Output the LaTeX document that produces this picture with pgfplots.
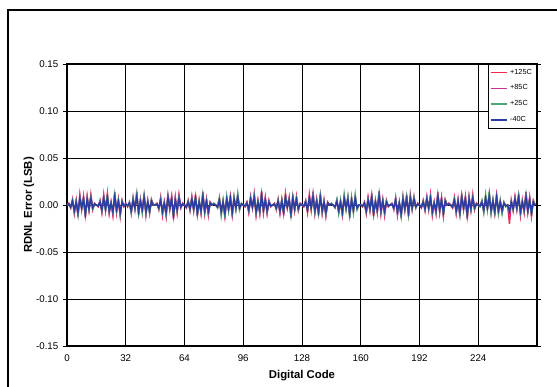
\documentclass[border=0pt]{standalone}
\usepackage{pgfplots}
\usepackage{pgfplotstable}
\pgfplotsset{compat=1.18}
\usepackage{fontspec}
\setmainfont{Liberation Sans}
\definecolor{cRed}{RGB}{240,40,80}
\definecolor{cMag}{RGB}{200,50,150}
\definecolor{cGrn}{RGB}{80,165,115}
\definecolor{cBlu}{RGB}{45,60,165}
\pgfplotstableread{
x r m g b
0 0 0 0 0
1 0.002 0.001 0.001 0.001
2 -0.003 -0.003 -0.002 -0.002
3 0.006 0.005 0.005 0.004
4 -0.009 -0.008 -0.007 -0.006
5 0.005 0.004 0.004 0.003
6 -0.012 -0.010 -0.010 -0.008
7 0.011 0.009 0.008 0.007
8 -0.005 -0.004 -0.004 -0.003
9 0.009 0.008 0.007 0.006
10 -0.014 -0.012 -0.011 -0.009
11 0.009 0.008 0.007 0.006
12 -0.006 -0.005 -0.005 -0.004
13 0.011 0.009 0.008 0.007
14 -0.005 -0.004 -0.004 -0.003
15 0.002 0.001 0.001 0.001
16 0 0 0 0
17 -0.002 -0.001 -0.001 -0.001
18 0.005 0.004 0.004 0.003
19 -0.008 -0.007 -0.006 -0.005
20 0.011 0.009 0.008 0.007
21 -0.006 -0.005 -0.005 -0.004
22 0.012 0.010 0.010 0.008
23 -0.009 -0.008 -0.007 -0.006
24 0.003 0.003 0.002 0.002
25 -0.011 -0.009 -0.008 -0.007
26 0.014 0.012 0.011 0.009
27 -0.008 -0.007 -0.006 -0.005
28 0.006 0.005 0.005 0.004
29 -0.012 -0.010 -0.010 -0.008
30 0.005 0.004 0.004 0.003
31 -0.002 -0.001 -0.001 -0.001
32 0.001 0.002 0.001 0.001
33 -0.001 -0.002 -0.001 -0.001
34 0.002 0.003 0.003 0.002
35 -0.007 -0.009 -0.008 -0.006
36 0.006 0.008 0.007 0.005
37 -0.004 -0.005 -0.004 -0.003
38 0.011 0.014 0.012 0.009
39 -0.008 -0.011 -0.009 -0.007
40 0.005 0.006 0.005 0.004
41 -0.006 -0.008 -0.007 -0.005
42 0.010 0.012 0.010 0.008
43 -0.008 -0.011 -0.009 -0.007
44 0.004 0.005 0.004 0.003
45 -0.007 -0.009 -0.008 -0.006
46 0.005 0.006 0.005 0.004
47 0 0 0 0
48 0 0 0 0
49 0.002 0.001 0.001 0.001
50 -0.005 -0.004 -0.004 -0.003
51 0.008 0.007 0.006 0.005
52 -0.011 -0.009 -0.008 -0.007
53 0.003 0.003 0.002 0.002
54 -0.012 -0.010 -0.010 -0.008
55 0.012 0.010 0.010 0.008
56 -0.005 -0.004 -0.004 -0.003
57 0.009 0.008 0.007 0.006
58 -0.015 -0.013 -0.012 -0.010
59 0.008 0.007 0.006 0.005
60 -0.008 -0.007 -0.006 -0.005
61 0.011 0.009 0.008 0.007
62 -0.003 -0.003 -0.002 -0.002
63 0.002 0.001 0.001 0.001
64 0 0 0 0
65 -0.003 -0.003 -0.002 -0.002
66 0.005 0.004 0.004 0.003
67 -0.006 -0.005 -0.005 -0.004
68 0.009 0.008 0.007 0.006
69 -0.006 -0.005 -0.005 -0.004
70 0.011 0.009 0.008 0.007
71 -0.012 -0.010 -0.010 -0.008
72 0.005 0.004 0.004 0.003
73 -0.009 -0.008 -0.007 -0.006
74 0.014 0.012 0.011 0.009
75 -0.009 -0.008 -0.007 -0.006
76 0.006 0.005 0.005 0.004
77 -0.011 -0.009 -0.008 -0.007
78 0.003 0.003 0.002 0.002
79 0 0 0 0
80 0.001 0.001 0.002 0.001
81 0 0 0 0
82 -0.003 -0.002 -0.003 -0.002
83 0.007 0.006 0.008 0.005
84 -0.009 -0.008 -0.011 -0.007
85 0.004 0.004 0.005 0.003
86 -0.012 -0.011 -0.014 -0.009
87 0.008 0.007 0.009 0.006
88 -0.005 -0.005 -0.006 -0.004
89 0.009 0.008 0.011 0.007
90 -0.010 -0.010 -0.012 -0.008
91 0.008 0.007 0.009 0.006
92 -0.004 -0.004 -0.005 -0.003
93 0.010 0.010 0.012 0.008
94 -0.004 -0.004 -0.005 -0.003
95 0.001 0.001 0.002 0.001
96 0 0 0 0
97 -0.002 -0.001 -0.001 -0.001
98 0.003 0.003 0.002 0.002
99 -0.008 -0.007 -0.006 -0.005
100 0.009 0.008 0.007 0.006
101 -0.003 -0.003 -0.002 -0.002
102 0.012 0.010 0.010 0.008
103 -0.011 -0.009 -0.008 -0.007
104 0.005 0.004 0.004 0.003
105 -0.009 -0.008 -0.007 -0.006
106 0.015 0.013 0.012 0.010
107 -0.008 -0.007 -0.006 -0.005
108 0.008 0.007 0.006 0.005
109 -0.009 -0.008 -0.007 -0.006
110 0.005 0.004 0.004 0.003
111 -0.002 -0.001 -0.001 -0.001
112 0 0 0 0
113 0.002 0.001 0.001 0.001
114 -0.005 -0.004 -0.004 -0.003
115 0.006 0.005 0.005 0.004
116 -0.009 -0.008 -0.007 -0.006
117 0.006 0.005 0.005 0.004
118 -0.011 -0.009 -0.008 -0.007
119 0.012 0.010 0.010 0.008
120 -0.003 -0.003 -0.002 -0.002
121 0.008 0.007 0.006 0.005
122 -0.014 -0.012 -0.011 -0.009
123 0.011 0.009 0.008 0.007
124 -0.006 -0.005 -0.005 -0.004
125 0.009 0.008 0.007 0.006
126 -0.006 -0.005 -0.005 -0.004
127 0.002 0.001 0.001 0.001
128 0 0 0 0
129 -0.002 -0.001 -0.001 -0.001
130 0.005 0.004 0.004 0.003
131 -0.008 -0.007 -0.006 -0.005
132 0.011 0.009 0.008 0.007
133 -0.005 -0.004 -0.004 -0.003
134 0.014 0.012 0.011 0.009
135 -0.009 -0.008 -0.007 -0.006
136 0.006 0.005 0.005 0.004
137 -0.011 -0.009 -0.008 -0.007
138 0.012 0.010 0.010 0.008
139 -0.009 -0.008 -0.007 -0.006
140 0.005 0.004 0.004 0.003
141 -0.012 -0.010 -0.010 -0.008
142 0.003 0.003 0.002 0.002
143 0 0 0 0
144 0.001 0.001 0.002 0.001
145 0 0 0 0
146 -0.003 -0.002 -0.003 -0.002
147 0.005 0.005 0.006 0.004
148 -0.008 -0.007 -0.009 -0.006
149 0.004 0.004 0.005 0.003
150 -0.010 -0.010 -0.012 -0.008
151 0.009 0.008 0.011 0.007
152 -0.004 -0.004 -0.005 -0.003
153 0.008 0.007 0.009 0.006
154 -0.012 -0.011 -0.014 -0.009
155 0.007 0.006 0.008 0.005
156 -0.007 -0.006 -0.008 -0.005
157 0.009 0.008 0.011 0.007
158 -0.004 -0.004 -0.005 -0.003
159 0 0 0 0
160 0 0 0 0
161 -0.002 -0.001 -0.001 -0.001
162 0.003 0.003 0.002 0.002
163 -0.009 -0.008 -0.007 -0.006
164 0.008 0.007 0.006 0.005
165 -0.006 -0.005 -0.005 -0.004
166 0.012 0.010 0.010 0.008
167 -0.012 -0.010 -0.010 -0.008
168 0.005 0.004 0.004 0.003
169 -0.008 -0.007 -0.006 -0.005
170 0.015 0.013 0.012 0.010
171 -0.009 -0.008 -0.007 -0.006
172 0.006 0.005 0.005 0.004
173 -0.011 -0.009 -0.008 -0.007
174 0.005 0.004 0.004 0.003
175 -0.002 -0.001 -0.001 -0.001
176 0 0 0 0
177 0.001 0.002 0.001 0.001
178 -0.004 -0.005 -0.004 -0.003
179 0.006 0.008 0.007 0.005
180 -0.008 -0.011 -0.009 -0.007
181 0.002 0.003 0.003 0.002
182 -0.011 -0.014 -0.012 -0.009
183 0.007 0.009 0.008 0.006
184 -0.005 -0.006 -0.005 -0.004
185 0.008 0.011 0.009 0.007
186 -0.010 -0.012 -0.010 -0.008
187 0.008 0.011 0.009 0.007
188 -0.004 -0.005 -0.004 -0.003
189 0.007 0.009 0.008 0.006
190 -0.002 -0.003 -0.003 -0.002
191 0.001 0.002 0.001 0.001
192 0 0 0 0
193 -0.003 -0.003 -0.002 -0.002
194 0.005 0.004 0.004 0.003
195 -0.006 -0.005 -0.005 -0.004
196 0.009 0.008 0.007 0.006
197 -0.005 -0.004 -0.004 -0.003
198 0.011 0.009 0.008 0.007
199 -0.011 -0.009 -0.008 -0.007
200 0.003 0.003 0.002 0.002
201 -0.009 -0.008 -0.007 -0.006
202 0.014 0.012 0.011 0.009
203 -0.008 -0.007 -0.006 -0.005
204 0.008 0.007 0.006 0.005
205 -0.012 -0.010 -0.010 -0.008
206 0.006 0.005 0.005 0.004
207 0 0 0 0
208 0.002 0.001 0.001 0.001
209 0 0 0 0
210 -0.003 -0.003 -0.002 -0.002
211 0.008 0.007 0.006 0.005
212 -0.009 -0.008 -0.007 -0.006
213 0.006 0.005 0.005 0.004
214 -0.012 -0.010 -0.010 -0.008
215 0.012 0.010 0.010 0.008
216 -0.005 -0.004 -0.004 -0.003
217 0.009 0.008 0.007 0.006
218 -0.015 -0.013 -0.012 -0.010
219 0.009 0.008 0.007 0.006
220 -0.006 -0.005 -0.005 -0.004
221 0.011 0.009 0.008 0.007
222 -0.005 -0.004 -0.004 -0.003
223 0.002 0.001 0.001 0.001
224 0 0 0 0
225 -0.001 -0.001 -0.002 -0.001
226 0.004 0.004 0.005 0.003
227 -0.007 -0.006 -0.008 -0.005
228 0.009 0.008 0.011 0.007
229 -0.004 -0.004 -0.005 -0.003
230 0.012 0.011 0.014 0.009
231 -0.008 -0.007 -0.009 -0.006
232 0.005 0.005 0.006 0.004
233 -0.009 -0.008 -0.011 -0.007
234 0.010 0.010 0.012 0.008
235 -0.008 -0.007 -0.009 -0.006
236 0.004 0.004 0.005 0.003
237 -0.008 -0.007 -0.009 -0.006
238 0.003 0.002 0.003 0.002
239 -0.001 -0.001 -0.002 -0.001
240 0 0 0 0
241 -0.020 -0.010 -0.008 -0.007
242 0.005 0.004 0.004 0.003
243 -0.006 -0.005 -0.005 -0.004
244 0.009 0.008 0.007 0.006
245 -0.005 -0.004 -0.004 -0.003
246 0.012 0.010 0.010 0.008
247 -0.011 -0.009 -0.008 -0.007
248 0.005 0.004 0.004 0.003
249 -0.008 -0.007 -0.006 -0.005
250 0.014 0.012 0.011 0.009
251 -0.009 -0.008 -0.007 -0.006
252 0.008 0.007 0.006 0.005
253 -0.012 -0.010 -0.010 -0.008
254 0.005 0.004 0.004 0.003
255 0 0 0 0
}\datatable
\begin{document}
\begin{tikzpicture}
\useasboundingbox (-50.25pt,-30pt) rectangle (367.5pt,259.5pt);
\draw[line width=0.8pt] (-44.25pt,-40pt) -- (-44.25pt,252pt) -- (380pt,252pt);
\begin{axis}[
  at={(0,0)}, anchor=south west,
  scale only axis,
  width=352.5pt, height=211.5pt,
  xmin=0, xmax=256, ymin=-0.15, ymax=0.15,
  xtick={0,32,64,96,128,160,192,224},
  ytick={-0.15,-0.10,-0.05,0,0.05,0.10,0.15},
  grid=major,
  major grid style={black, line width=0.6pt},
  axis line style={black, line width=1.1pt},
  tick style={black, line width=0.6pt},
  tick align=outside,
  major tick length=3pt,
  x tick style={draw=none},
  /pgf/number format/assume math mode=true,
  yticklabel style={/pgf/number format/fixed, /pgf/number format/fixed zerofill, /pgf/number format/precision=2, font=\fontsize{7.3}{8}\selectfont},
  xticklabel style={font=\fontsize{7.3}{8}\selectfont},
  scaled y ticks=false,
  xlabel={\bfseries Digital Code},
  ylabel={\bfseries RDNL Error (LSB)},
  xlabel style={font=\fontsize{8.5}{9}\selectfont, yshift=0pt},
  ylabel style={font=\fontsize{8.5}{9}\selectfont, yshift=-5.5pt},
  legend style={at={(rel axis cs:1,1)}, anchor=north east, draw=black, line width=0.6pt, fill=white,
    font=\fontsize{5.5}{6}\selectfont, inner sep=1.5pt, row sep=2.5pt, cells={anchor=west}},
  legend image code/.code={\draw[#1] (0pt,0pt) -- (12pt,0pt);},
]
\addplot[color=cRed, line width=1.1pt, mark=none] table[x=x, y=r] {\datatable};
\addlegendentry{+125C}
\addplot[color=cMag, line width=1.1pt, mark=none] table[x=x, y=m] {\datatable};
\addlegendentry{+85C}
\addplot[color=cGrn, line width=1.1pt, mark=none] table[x=x, y=g] {\datatable};
\addlegendentry{+25C}
\addplot[color=cBlu, line width=1.1pt, mark=none] table[x=x, y=b] {\datatable};
\addlegendentry{-40C}
\end{axis}
\end{tikzpicture}
\end{document}
